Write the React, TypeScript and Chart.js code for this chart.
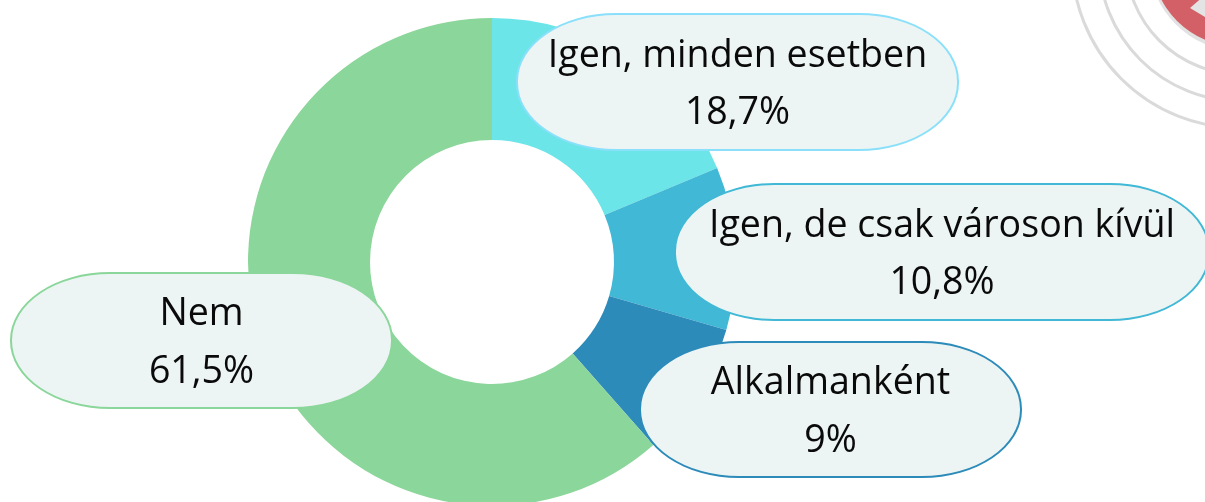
import React, { useEffect, useRef } from "react";
import { Chart, registerables } from "chart.js";

Chart.register(...registerables);

const categories = ["Igen, minden esetben", "Igen, de csak városon kívül", "Alkalmanként", "Nem"];
const values = [18.7, 10.8, 9, 61.5];
const sliceColors = ["#6ce5e8", "#41b8d5", "#2d8bba", "#8bd69a"];
const pillBorders = ["#8ae0fb", "#41b8d5", "#2d8bba", "#8bd69a"];
const pillBoxes = [
  { left: 516, top: 13, width: 443, height: 138 },
  { left: 674, top: 183, width: 536, height: 138 },
  { left: 639, top: 341, width: 383, height: 137 },
  { left: 10, top: 272, width: 383, height: 137 },
];

const formatPct = (v: number) => String(v).replace(".", ",") + "%";

export default function App() {
  const ref = useRef<HTMLCanvasElement>(null);
  useEffect(() => {
    const chart = new Chart(ref.current!, {
      type: "doughnut",
      data: {
        labels: categories,
        datasets: [{ data: values, backgroundColor: sliceColors, borderWidth: 0 }],
      },
      options: {
        animation: false,
        responsive: false,
        cutout: "50%",
        layout: { padding: { left: 248, right: 469, top: 18, bottom: 0 } },
        plugins: { legend: { display: false }, tooltip: { enabled: false } },
      },
    });
    return () => chart.destroy();
  }, []);
  return (
    <div style={{ position: "fixed", left: 0, top: 0, width: 1205, height: 502, overflow: "hidden", background: "#fff" }}>
      <canvas ref={ref} width={1205} height={506} style={{ position: "absolute", left: 0, top: 0 }} />
      <svg width={1205} height={502} style={{ position: "absolute", left: 0, top: 0 }}>
        <g fill="none" stroke="#dadada" strokeWidth={3}>
          <circle cx={1240} cy={-40} r={168} />
          <circle cx={1240} cy={-40} r={141} />
          <circle cx={1240} cy={-40} r={114} />
        </g>
        <circle cx={1240} cy={-40} r={91} fill="#e2e2e2" />
        <circle cx={1240} cy={-42} r={89} fill="#d26066" />
        <path d="M1190 8 L1205 -5 L1205 17 Z" fill="#e4e4e4" />
      </svg>
      {categories.map((c, i) => (
        <div
          key={c}
          style={{
            position: "absolute",
            boxSizing: "border-box",
            ...pillBoxes[i],
            background: "#ecf5f4",
            border: `2px solid ${pillBorders[i]}`,
            borderRadius: "100px / 68px",
            display: "flex",
            flexDirection: "column",
            alignItems: "center",
            justifyContent: "center",
            paddingBottom: 2,
            fontFamily: "'Open Sans'",
            fontSize: 37.6,
            lineHeight: "57.5px",
            color: "#0a0a0a",
            whiteSpace: "nowrap",
          }}
        >
          <div>{c}</div>
          <div>{formatPct(values[i])}</div>
        </div>
      ))}
    </div>
  );
}
